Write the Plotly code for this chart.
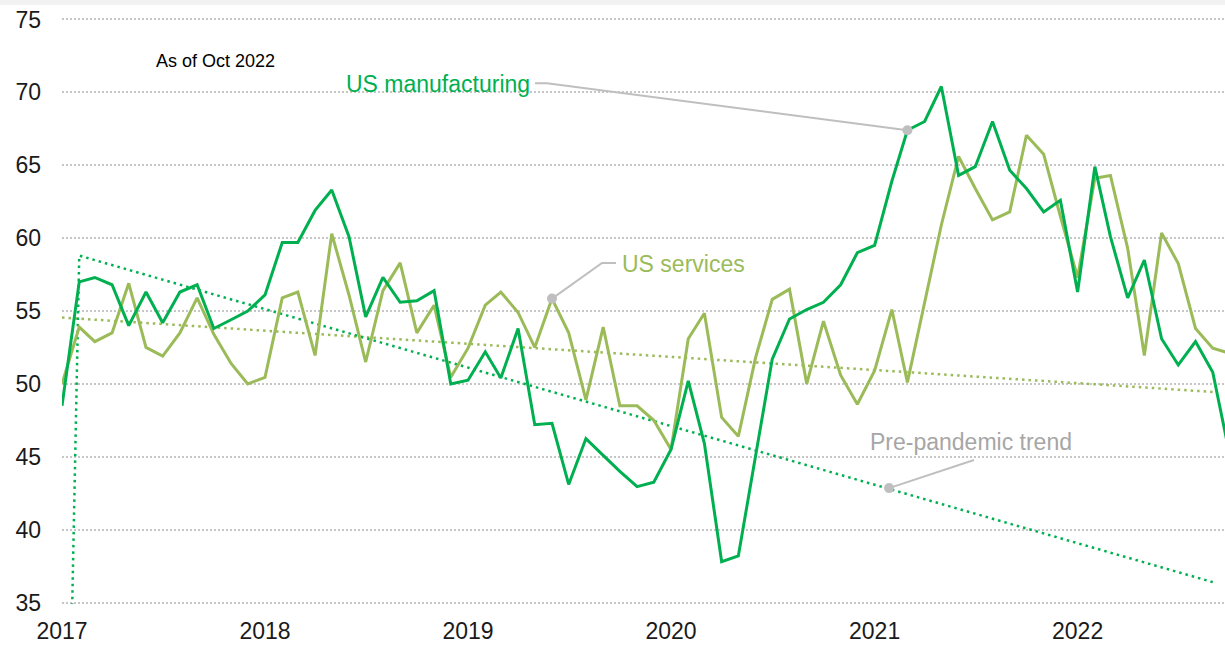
import pandas as pd
import plotly.graph_objects as go

# ---------------- data ----------------
months = pd.date_range("2017-01-01", "2022-10-01", freq="MS")

us_manufacturing = [
    48.5, 57.0, 57.3, 56.8, 54.0, 56.3, 54.2, 56.3, 56.8, 53.8, 54.4, 55.0,   # 2017
    56.1, 59.7, 59.7, 61.9, 63.3, 60.1, 54.6, 57.3, 55.6, 55.7, 56.4, 50.0,   # 2018
    50.25, 52.2, 50.4, 53.8, 47.2, 47.3, 43.1, 46.25, 45.1, 44.0, 42.95, 43.25,  # 2019
    45.5, 50.2, 45.9, 37.8, 38.2, 45.0, 51.7, 54.45, 55.1, 55.6, 56.8, 59.0,  # 2020
    59.5, 63.9, 67.4, 68.0, 70.4, 64.3, 64.9, 68.0, 64.65, 63.4, 61.8, 62.6,  # 2021
    56.3, 64.9, 60.1, 55.9, 58.5, 53.1, 51.3, 52.9, 50.8, 45.2,               # 2022
]

us_services = [
    50.0, 53.9, 52.9, 53.5, 56.9, 52.5, 51.9, 53.5, 55.9, 53.4, 51.4, 50.0,   # 2017
    50.45, 55.9, 56.3, 51.95, 60.3, 56.1, 51.5, 56.4, 58.3, 53.5, 55.4, 50.45,  # 2018
    52.45, 55.4, 56.3, 54.9, 52.5, 55.85, 53.5, 48.9, 53.9, 48.5, 48.5, 47.5,  # 2019
    45.5, 53.1, 54.85, 47.7, 46.4, 51.8, 55.8, 56.5, 50.0, 54.3, 50.6, 48.6,  # 2020
    50.9, 55.1, 50.1, 55.5, 60.9, 65.6, 63.4, 61.25, 61.8, 67.05, 65.75, 61.5,  # 2021
    57.3, 64.1, 64.3, 59.3, 51.95, 60.35, 58.25, 53.8, 52.45, 52.1,           # 2022
]

mfg_trend_dates = ["2017-01-01", "2017-02-01", "2022-09-01"]
mfg_trend_values = [0, 58.8, 36.4]

svc_trend_dates = ["2017-01-01", "2022-09-01"]
svc_trend_values = [54.55, 49.45]

trend_label_point = ("2021-01-27", 42.85)

year_ticks = ["2017-01-01", "2018-01-01", "2019-01-01", "2020-01-01", "2021-01-01", "2022-01-01"]
year_labels = ["2017", "2018", "2019", "2020", "2021", "2022"]
y_ticks = [35, 40, 45, 50, 55, 60, 65, 70, 75]

# ---------------- style / layout ----------------
C_MFG = "#00b050"
C_SVC = "#9bbb59"
C_GREY = "#bfbfbf"
C_GRID = "#c6c6c6"
C_TXT_GREY = "#a6a6a6"
FONT = "Liberation Sans, Arial, sans-serif"

W, H = 1225, 647
ML, MR, MT, MB = 62, 0, 18, 43
PW, PH = W - ML - MR, H - MT - MB
X0 = pd.Timestamp("2017-01-01")
X1 = pd.Timestamp("2022-09-23")
Y0, Y1 = 34.9, 75.1
px_per_day = PW / (X1 - X0).days


def px2x(px):
    return X0 + pd.Timedelta(days=(px - ML) / px_per_day)


def py2y(py):
    return Y0 + (MT + PH - py) / PH * (Y1 - Y0)


def px2paper(px):
    return (px - ML) / PW


def py2paper(py):
    return (MT + PH - py) / PH


fig = go.Figure()

# trend lines
fig.add_trace(go.Scatter(x=svc_trend_dates, y=svc_trend_values, mode="lines",
                         line=dict(color=C_SVC, width=2.5, dash="2.5px,4px"),
                         hoverinfo="skip", showlegend=False))
fig.add_trace(go.Scatter(x=mfg_trend_dates, y=mfg_trend_values, mode="lines",
                         line=dict(color=C_MFG, width=2.5, dash="2.5px,4px"),
                         hoverinfo="skip", showlegend=False))

# main series
fig.add_trace(go.Scatter(x=months, y=us_services, mode="lines",
                         line=dict(color=C_SVC, width=3), name="US services",
                         hoverinfo="skip", showlegend=False))
fig.add_trace(go.Scatter(x=months, y=us_manufacturing, mode="lines",
                         line=dict(color=C_MFG, width=3), name="US manufacturing",
                         hoverinfo="skip", showlegend=False))

# connectors
i_mfg = list(months).index(pd.Timestamp("2021-03-01"))
i_svc = list(months).index(pd.Timestamp("2019-06-01"))
mfg_pt = (months[i_mfg], us_manufacturing[i_mfg])
svc_pt = (months[i_svc], us_services[i_svc])

connectors = [
    ([px2x(535), px2x(547), mfg_pt[0]], [py2y(83.3), py2y(83.3), mfg_pt[1]]),
    ([px2x(616), px2x(602), svc_pt[0]], [py2y(263), py2y(263), svc_pt[1]]),
    ([px2x(974), pd.Timestamp(trend_label_point[0])], [py2y(460), trend_label_point[1]]),
]
for cx, cy in connectors:
    fig.add_trace(go.Scatter(x=cx, y=cy, mode="lines", line=dict(color=C_GREY, width=2),
                             hoverinfo="skip", showlegend=False))

fig.add_trace(go.Scatter(x=[mfg_pt[0], svc_pt[0], pd.Timestamp(trend_label_point[0])],
                         y=[mfg_pt[1], svc_pt[1], trend_label_point[1]],
                         mode="markers", marker=dict(color=C_GREY, size=10),
                         hoverinfo="skip", showlegend=False))

annotations = [
    dict(text="As of Oct 2022", x=px2paper(154), y=py2paper(61), xanchor="left", yanchor="middle",
         font=dict(size=18, color="#000000", family=FONT)),
    dict(text="US manufacturing", x=px2paper(532), y=py2paper(84), xanchor="right", yanchor="middle",
         font=dict(size=23, color=C_MFG, family=FONT)),
    dict(text="US services", x=px2paper(620), y=py2paper(264), xanchor="left", yanchor="middle",
         font=dict(size=23, color=C_SVC, family=FONT)),
    dict(text="Pre-pandemic trend", x=px2paper(868), y=py2paper(442), xanchor="left", yanchor="middle",
         font=dict(size=23, color=C_TXT_GREY, family=FONT)),
]
for a in annotations:
    a.update(xref="paper", yref="paper", showarrow=False)

fig.update_layout(
    width=W, height=H,
    margin=dict(l=ML, r=MR, t=MT, b=MB, pad=0),
    paper_bgcolor="white", plot_bgcolor="white",
    font=dict(family=FONT, size=23, color="#1a1a1a"),
    annotations=annotations,
    hovermode=False,
    shapes=[dict(type="rect", xref="paper", yref="paper",
                 x0=-ML / PW, x1=1.0, y0=1 + (MT - 5) / PH, y1=1 + MT / PH,
                 fillcolor="#f2f2f2", line=dict(width=0), layer="below")],
    xaxis=dict(range=[X0, X1], tickvals=year_ticks, ticktext=year_labels,
               showgrid=False, zeroline=False, showline=False, ticks="",
               ticklabelstandoff=11, tickfont=dict(size=23, color="#1a1a1a")),
    yaxis=dict(range=[Y0, Y1], tickvals=y_ticks, showgrid=True, gridcolor=C_GRID,
               gridwidth=1.5, griddash="1.5px,2.5px", zeroline=False, showline=False,
               ticks="", ticklabelstandoff=20, tickfont=dict(size=23, color="#1a1a1a")),
)

fig.write_html("out.html", config={"displayModeBar": False},
               post_script="document.body.style.margin='0';document.body.style.overflow='hidden';")
